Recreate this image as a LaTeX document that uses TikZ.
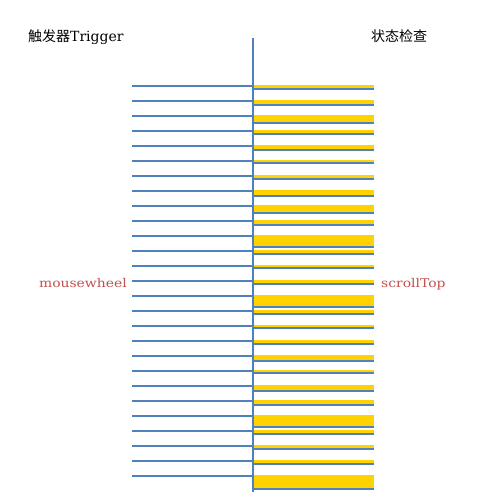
\documentclass[tikz,border=0pt]{standalone}
\usepackage{fontspec}
\setmainfont{DejaVu Serif}
\newfontfamily\cjk{Noto Sans CJK SC}
\usetikzlibrary{positioning}

\definecolor{lineblue}{RGB}{79,129,189}
\definecolor{baryellow}{RGB}{255,210,0}
\definecolor{labelred}{RGB}{192,80,77}

\begin{document}
\begin{tikzpicture}[x=1pt, y=-1pt,
        tick/.style={draw=lineblue, line width=2pt},
        axis/.style={draw=lineblue, line width=2pt},
        fillbar/.style={fill=baryellow, draw=none},
        title/.style={font=\fontsize{14}{16}\selectfont, text=black, inner sep=0pt},
        event/.style={font=\fontsize{12}{14}\selectfont, text=labelred, inner sep=0pt}
    ]

    % Page frame
    \useasboundingbox (0,0) rectangle (500,500);

    % Headings
    \node[title, anchor=base west] (trigger) at (28,42) {{\cjk 触发器}Trigger};
    \node[title, anchor=base west] (check) at (371,42) {\cjk 状态检查};

    % Trigger ticks (left) and state checks (right)
    \foreach \d [count=\k from 0] in {3.1,4.1,7.3,2.8,4.1,2.1,3.0,5.1,7.3,3.8,
            11.3,3.3,2.3,3.3,11.3,3.3,2.3,3.3,5.3,2.3,5.3,4.3,11.3,3.3,3.3,3.3,13.3} {
        \pgfmathsetmacro{\yk}{85.7+15*\k}
        \fill[fillbar] (254,\yk-1) rectangle (374,\yk+\d);
        \draw[tick] (132,\yk) -- (253,\yk);
        \draw[tick] (253,\yk+\d) -- (374,\yk+\d);
    }

    % Timeline
    \coordinate (top) at (253,38);
    \coordinate (bottom) at (253,492);
    \draw[axis] (top) -- (bottom);

    % Event labels
    \node[event, anchor=base east] (wheel) at (127,287.3) {\scalebox{1.16}[1]{mousewheel}};
    \node[event, anchor=base west] (scroll) at (381,287.3) {\scalebox{1.16}[1]{scrollTop}};

\end{tikzpicture}
\end{document}
